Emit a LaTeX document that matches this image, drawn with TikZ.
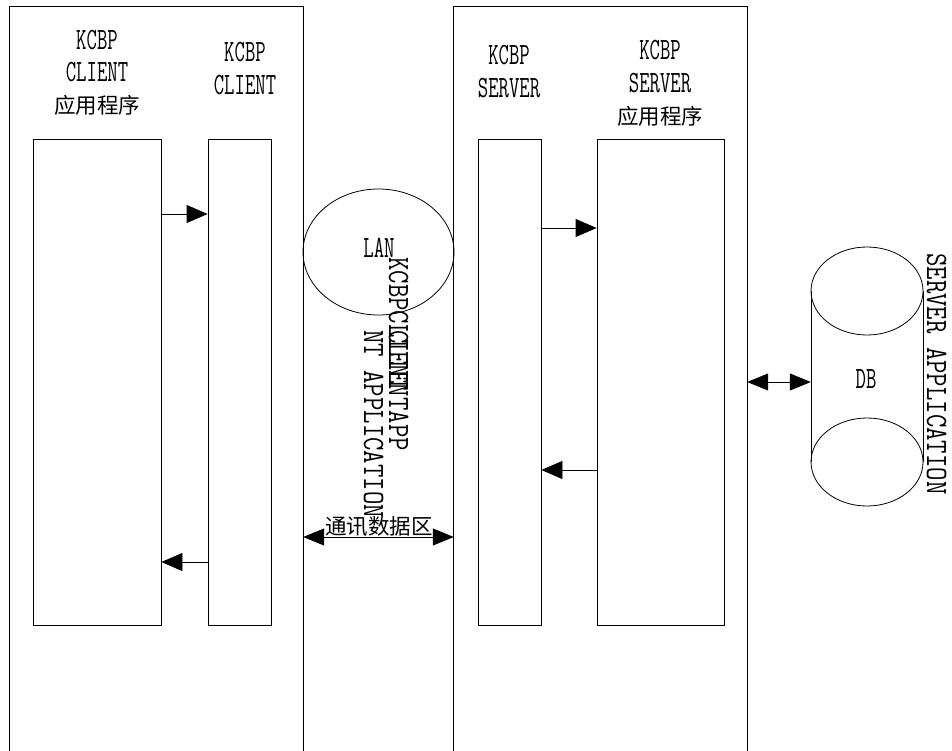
\documentclass[tikz,border=0pt]{standalone}
\usepackage{fontspec}
\newfontfamily\lat[FakeStretch=0.65]{Latin Modern Mono}
\newfontfamily\latw[FakeStretch=0.84]{Latin Modern Mono}
\newfontfamily\cjk{Noto Sans CJK SC}
\usetikzlibrary{arrows.meta,shapes.geometric}
\begin{document}
\begin{tikzpicture}[x=1pt,y=-1pt,
 lbl/.style={font=\lat\fontsize{31}{31}\selectfont, inner sep=0, anchor=base},
 clbl/.style={font=\cjk\fontsize{21.5}{21.5}\selectfont, inner sep=0, anchor=base},
 vlbl/.style={font=\latw\fontsize{31}{31}\selectfont, inner sep=0, anchor=base west, rotate=-90},
 inbox/.style={draw, line width=0.8pt, minimum height=486pt, inner sep=0},
 bigbox/.style={minimum width=293pt, minimum height=744pt, inner sep=0},
 frame/.style={draw, line width=0.9pt},
 arr/.style={line width=0.8pt, -{Triangle[length=21pt,width=18pt]}},
 darr/.style={line width=0.8pt, {Triangle[length=21pt,width=17pt]}-{Triangle[length=21pt,width=17pt]}}
]
\useasboundingbox (0,0) rectangle (952,751);

% big open frames
\node[bigbox] (lbig) at (156.5,379) {};
\node[bigbox] (rbig) at (600.5,379) {};
\draw[frame] (lbig.south west) -- (lbig.north west) -- (lbig.north east) -- (lbig.south east);
\draw[frame] (rbig.south west) -- (rbig.north west) -- (rbig.north east) -- (rbig.south east);

% inner boxes
\node[inbox, minimum width=128pt] (capp) at (97,382) {};
\node[inbox, minimum width=63pt] (cli) at (239.5,382) {};
\node[inbox, minimum width=63pt] (srv) at (509.5,382) {};
\node[inbox, minimum width=127pt] (sapp) at (660.5,382) {};

% labels
\node[lbl] (ca1) at (97,50) {KCBP};
\node[lbl] (ca2) at (97,82) {CLIENT};
\node[clbl] (ca3) at (97,114) {应用程序};
\node[lbl] (cl1) at (245,62) {KCBP};
\node[lbl] (cl2) at (245,95) {CLIENT};
\node[lbl] (sv1) at (509,65) {KCBP};
\node[lbl] (sv2) at (509,98) {SERVER};
\node[lbl] (sa1) at (660,60) {KCBP};
\node[lbl] (sa2) at (660,93) {SERVER};
\node[clbl] (sa3) at (660,125) {应用程序};

% LAN
\node[draw, ellipse, line width=0.8pt, minimum width=151pt, minimum height=126pt, inner sep=0] (lan) at (378.5,252) {};
\node[lbl] (lant) at (379,257) {LAN};

% rotated texts
\node[vlbl] (t1) at (389,257) {KCBPCLIENT};
\node[vlbl] (t2) at (389,330) {CLIENTAPP};
\node[vlbl] (t3) at (364,330) {NT APPLICATION};
\node[vlbl] (t4) at (927,253) {SERVER APPLICATION};

% DB cylinder
\draw[line width=0.8pt] (867,291) ellipse [x radius=56, y radius=44];
\draw[line width=0.8pt] (867,462) ellipse [x radius=56, y radius=44];
\draw[line width=0.8pt] (811,291) -- (811,462) (923,291) -- (923,462);
\node[lbl] (dbt) at (866,388) {DB};
\node[minimum width=112pt, minimum height=259pt, inner sep=0] (db) at (867,376.5) {};

% connector levels
\coordinate (y1) at (0,214);
\coordinate (y2) at (0,562);
\coordinate (y3) at (0,228);
\coordinate (y4) at (0,470);
\coordinate (y5) at (0,537);
\coordinate (y6) at (0,382);

\draw[arr] (capp.east |- y1) -- (cli.west |- y1);
\draw[arr] (cli.west |- y2) -- (capp.east |- y2);
\draw[arr] (srv.east |- y3) -- (sapp.west |- y3);
\draw[arr] (sapp.west |- y4) -- (srv.east |- y4);
\draw[darr] (lbig.east |- y5) -- (rbig.west |- y5);
\draw[darr] (rbig.east |- y6) -- (db.west |- y6);
\node[clbl] (comm) at (379,534) {通讯数据区};
\end{tikzpicture}
\end{document}
